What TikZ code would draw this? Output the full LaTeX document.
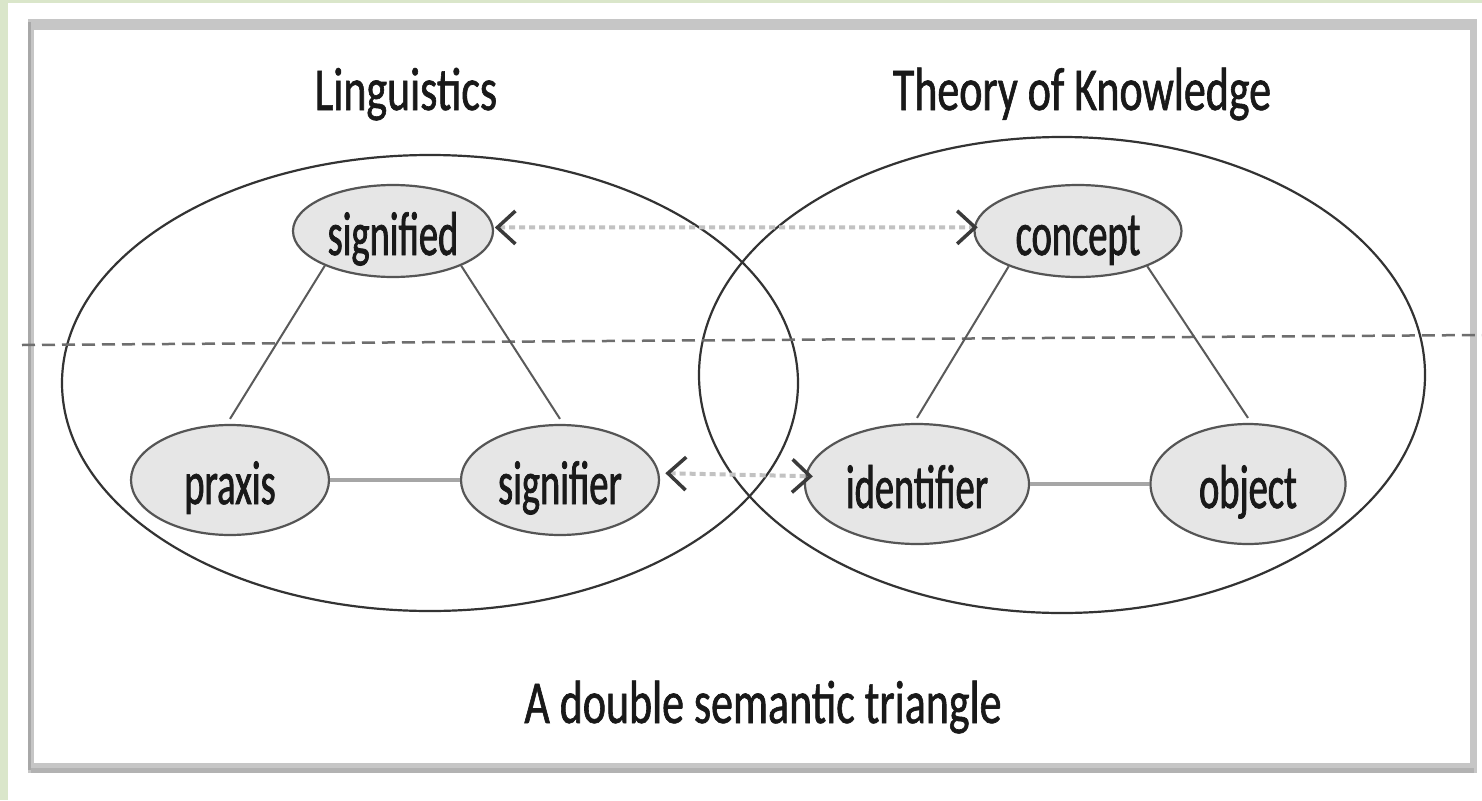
\documentclass[tikz,border=0pt]{standalone}
\usepackage{fontspec}
\setmainfont{Carlito}
\newfontfamily\titlefont{Carlito}[FakeStretch=0.72,FakeBold=1]
\newfontfamily\nodefont{Carlito}[FakeStretch=0.62,FakeBold=1.2]
\usetikzlibrary{shapes.geometric,arrows.meta}
\definecolor{greenstrip}{HTML}{DAE6CA}
\definecolor{framegray}{HTML}{C6C6C6}
\definecolor{framedark}{HTML}{A8A8A8}
\definecolor{framebot}{HTML}{B2B2B2}
\definecolor{nodefill}{HTML}{E6E6E6}
\definecolor{nodeedge}{HTML}{555555}
\definecolor{sidegray}{HTML}{5A5A5A}
\definecolor{basegray}{HTML}{A6A6A6}
\definecolor{dashgray}{HTML}{6E6E6E}
\definecolor{dotgray}{HTML}{C2C2C2}
\definecolor{tipgray}{HTML}{3A3A3A}
\begin{document}
\begin{tikzpicture}[x=1pt,y=-1pt,
  titletext/.style={font={\titlefont\fontsize{61}{64}\selectfont}, inner sep=0pt, anchor=base, text=black!90},
  smallnode/.style={ellipse, draw=nodeedge, line width=2.2pt, fill=nodefill, inner sep=0pt,
     text height=56pt, text depth=8pt, text=black!90,
     font={\nodefont\fontsize{62}{64}\selectfont}},
  bigell/.style={ellipse, draw=black!80, line width=2.2pt, inner sep=0pt},
  sideline/.style={draw=sidegray, line width=2pt},
  baseline/.style={draw=basegray, line width=4pt},
  dashline/.style={draw=dashgray, line width=2.5pt, dash pattern=on 13pt off 7pt},
  dotarrow/.style={draw=dotgray, line width=4pt, dash pattern=on 6pt off 4pt,
     {Straight Barb[length=18pt,width=33pt,line width=3.5pt,color=tipgray]}-{Straight Barb[length=18pt,width=33pt,line width=3.5pt,color=tipgray]}}
]
\useasboundingbox (0,0) rectangle (1482,800);
% background strips
\fill[greenstrip] (0,0) rectangle (8,800);
\fill[greenstrip] (0,0) rectangle (1482,3);
% frame
\fill[framegray] (28,19) rectangle (1477,773);
\fill[framedark] (28,22) rectangle (31,770);
\fill[framebot] (31,768) rectangle (1474,773);
\fill[white] (34,30) rectangle (1470,763);

% big ellipses
\node[bigell, minimum width=736pt, minimum height=456pt] (L) at (430,383) {};
\node[bigell, minimum width=726pt, minimum height=476pt] (R) at (1062,375) {};

% dashed line
\coordinate (dl) at (22,345);
\coordinate (dr) at (1482,335);
\draw[dashline] (dl) -- (dr);

% titles
\node[titletext] (tling) at (406,110) {Linguistics};
\node[titletext] (ttok) at (1082,110) {Theory of Knowledge};
\node[titletext] (tcap) at (763,723) {A double semantic triangle};

% small nodes
\node[smallnode, minimum width=200pt, minimum height=92pt] (signified) at (393,231) {signified};
\node[smallnode, minimum width=207pt, minimum height=92pt] (concept) at (1078,231) {concept};
\node[smallnode, minimum width=198pt, minimum height=110pt] (praxis) at (230,480) {praxis};
\node[smallnode, minimum width=198pt, minimum height=110pt] (signifier) at (560,480) {signifier};
\node[smallnode, minimum width=224pt, minimum height=120pt] (identifier) at (917,484) {identifier};
\node[smallnode, minimum width=195pt, minimum height=120pt] (object) at (1248,484) {object};

% triangle sides
\draw[sideline] (signified.207) -- ([yshift=5pt]praxis.north);
\draw[sideline] (signified.333) -- ([yshift=5pt]signifier.north);
\draw[sideline] (concept.207) -- ([yshift=5pt]identifier.north);
\draw[sideline] (concept.333) -- ([yshift=5pt]object.north);
\draw[baseline] (praxis.east) -- (signifier.west);
\draw[baseline] (identifier.east) -- (object.west);

% dotted arrows
\draw[dotarrow, shorten <=1pt, shorten >=-4pt] (signified.2) -- (concept.178);
\draw[dotarrow, shorten <=6pt, shorten >=-8pt] (signifier.4) -- (identifier.176);
\end{tikzpicture}
\end{document}
